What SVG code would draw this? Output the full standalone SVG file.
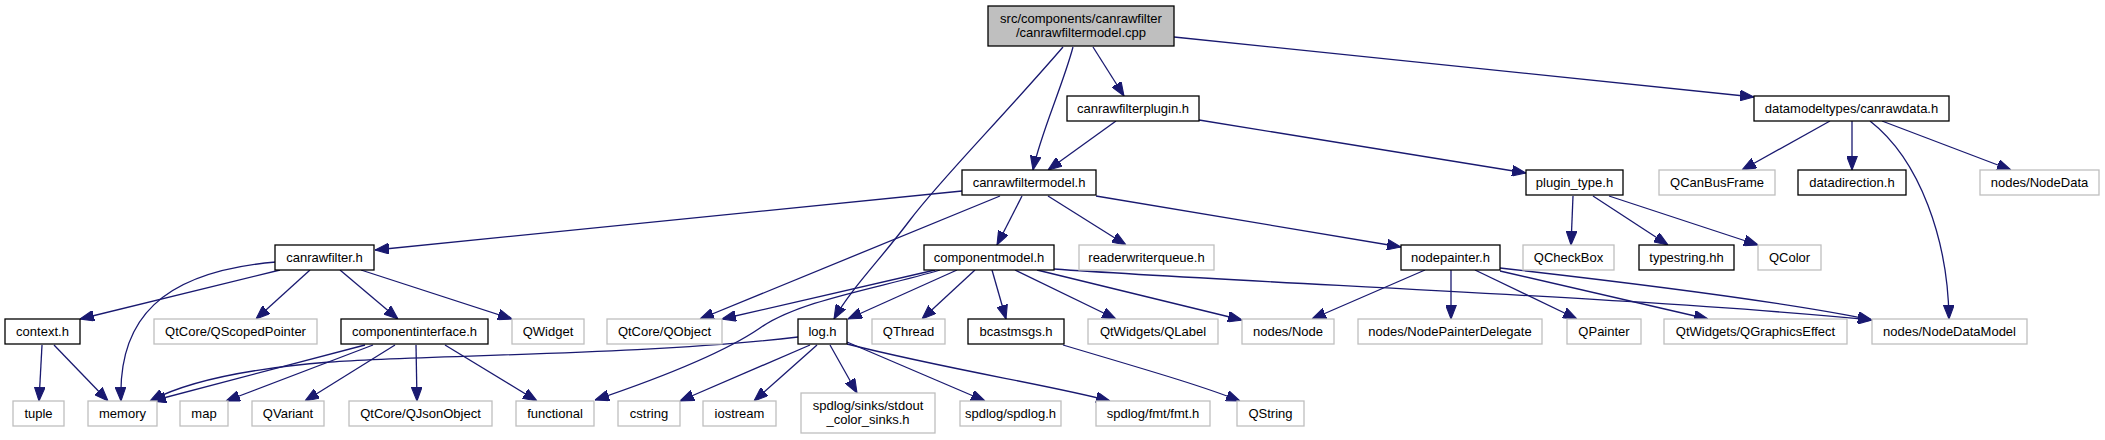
<svg xmlns="http://www.w3.org/2000/svg" width="2105" height="440" viewBox="0 0 2105 440">
<style>
text{font-family:"Liberation Sans",Arial,Helvetica,sans-serif;font-size:13px;fill:#000;text-anchor:middle}
.n rect{fill:#fff;stroke:#000;stroke-width:1.3}
.g rect{fill:#fff;stroke:#bfbfbf;stroke-width:1.3}
.r rect{fill:#bfbfbf;stroke:#000;stroke-width:1.3}
#edges path{fill:none;stroke:#191970;stroke-width:1.3;marker-end:url(#ah)}
</style>
<defs>
<marker id="ah" markerUnits="userSpaceOnUse" markerWidth="14" markerHeight="11" viewBox="0 0 13 10" refX="13" refY="5" orient="auto">
<path d="M0,0 L13,5 L0,10 z" fill="#191970" stroke="#191970" stroke-width="1"/>
</marker>
</defs>
<rect width="2105" height="440" fill="#fff"/>
<g id="edges">
<path d="M1093,47 L1124,96"/>
<path d="M1073,47 C1063,85 1040,135 1033,170"/>
<path d="M1063,47 C1000,120 940,180 910,220 S850,290 834,319"/>
<path d="M1174,37 L1754,97"/>
<path d="M1116,121 L1048,170"/>
<path d="M1199,120 L1526,173"/>
<path d="M962,191 L375,250"/>
<path d="M1000,196 L700,319"/>
<path d="M1022,196 L997,245"/>
<path d="M1048,196 L1126,245"/>
<path d="M1096,196 L1401,247"/>
<path d="M1830,121 L1742,170"/>
<path d="M1852,121 L1852,170"/>
<path d="M1870,121 C1920,160 1948,240 1949,319"/>
<path d="M1882,121 L2011,170"/>
<path d="M1573,196 L1571,245"/>
<path d="M1593,196 L1668,245"/>
<path d="M1609,196 L1758,245"/>
<path d="M280,270 L80,319"/>
<path d="M276,262 C160,272 118,320 121,401"/>
<path d="M310,270 L256,319"/>
<path d="M340,270 L398,319"/>
<path d="M361,270 L512,319"/>
<path d="M935,270 L722,319"/>
<path d="M957,270 L848,319"/>
<path d="M975,270 L922,319"/>
<path d="M992,270 L1006,319"/>
<path d="M1015,270 L1116,319"/>
<path d="M1037,270 L1242,320"/>
<path d="M1054,269 C1250,283 1650,298 1872,320"/>
<path d="M940,270 C880,288 800,300 760,328 C725,352 660,378 595,400"/>
<path d="M798,337 C650,355 420,355 330,362 C230,370 180,385 150,401"/>
<path d="M810,345 L680,401"/>
<path d="M817,345 L754,401"/>
<path d="M830,345 L857,393"/>
<path d="M847,342 L985,401"/>
<path d="M847,344 C950,370 1050,385 1110,401"/>
<path d="M1063,345 C1140,368 1200,385 1240,401"/>
<path d="M365,345 L152,401"/>
<path d="M373,345 L226,401"/>
<path d="M395,345 L305,401"/>
<path d="M416,345 L417,401"/>
<path d="M445,345 L537,401"/>
<path d="M42,345 L39,401"/>
<path d="M54,345 L108,401"/>
<path d="M1425,270 L1312,319"/>
<path d="M1451,270 L1451,319"/>
<path d="M1475,270 L1577,319"/>
<path d="M1500,271 L1708,319"/>
<path d="M1500,268 C1650,285 1800,305 1872,320"/>
</g>
<g id="root" class="r"><rect x="988" y="6" width="186" height="40"/><text x="1081" y="23">src/components/canrawfilter</text><text x="1081" y="37">/canrawfiltermodel.cpp</text></g>
<g id="canrawfilterplugin" class="n"><rect x="1067" y="96" width="132" height="25"/><text x="1133" y="113">canrawfilterplugin.h</text></g>
<g id="canrawdata" class="n"><rect x="1754" y="96" width="195" height="25"/><text x="1851.5" y="113">datamodeltypes/canrawdata.h</text></g>
<g id="canrawfiltermodel" class="n"><rect x="962" y="170" width="134" height="25"/><text x="1029" y="187">canrawfiltermodel.h</text></g>
<g id="plugin_type" class="n"><rect x="1526" y="170" width="97" height="25"/><text x="1574.5" y="187">plugin_type.h</text></g>
<g id="QCanBusFrame" class="g"><rect x="1659" y="170" width="116" height="25"/><text x="1717" y="187">QCanBusFrame</text></g>
<g id="datadirection" class="n"><rect x="1798" y="170" width="108" height="25"/><text x="1852" y="187">datadirection.h</text></g>
<g id="NodeData" class="g"><rect x="1980" y="170" width="119" height="25"/><text x="2039.5" y="187">nodes/NodeData</text></g>
<g id="canrawfilter" class="n"><rect x="275" y="245" width="99" height="25"/><text x="324.5" y="262">canrawfilter.h</text></g>
<g id="componentmodel" class="n"><rect x="924" y="245" width="130" height="25"/><text x="989" y="262">componentmodel.h</text></g>
<g id="readerwriterqueue" class="g"><rect x="1079" y="245" width="135" height="25"/><text x="1146.5" y="262">readerwriterqueue.h</text></g>
<g id="nodepainter" class="n"><rect x="1401" y="245" width="99" height="25"/><text x="1450.5" y="262">nodepainter.h</text></g>
<g id="QCheckBox" class="g"><rect x="1523" y="245" width="91" height="25"/><text x="1568.5" y="262">QCheckBox</text></g>
<g id="typestring" class="n"><rect x="1639" y="245" width="95" height="25"/><text x="1686.5" y="262">typestring.hh</text></g>
<g id="QColor" class="g"><rect x="1758" y="245" width="63" height="25"/><text x="1789.5" y="262">QColor</text></g>
<g id="context" class="n"><rect x="5" y="319" width="75" height="25"/><text x="42.5" y="336">context.h</text></g>
<g id="QScopedPointer" class="g"><rect x="154" y="319" width="163" height="25"/><text x="235.5" y="336">QtCore/QScopedPointer</text></g>
<g id="componentinterface" class="n"><rect x="341" y="319" width="147" height="25"/><text x="414.5" y="336">componentinterface.h</text></g>
<g id="QWidget" class="g"><rect x="512" y="319" width="72" height="25"/><text x="548" y="336">QWidget</text></g>
<g id="QObject" class="g"><rect x="607" y="319" width="115" height="25"/><text x="664.5" y="336">QtCore/QObject</text></g>
<g id="log" class="n"><rect x="798" y="319" width="49" height="25"/><text x="822.5" y="336">log.h</text></g>
<g id="QThread" class="g"><rect x="872" y="319" width="73" height="25"/><text x="908.5" y="336">QThread</text></g>
<g id="bcastmsgs" class="n"><rect x="968" y="319" width="96" height="25"/><text x="1016" y="336">bcastmsgs.h</text></g>
<g id="QLabel" class="g"><rect x="1088" y="319" width="130" height="25"/><text x="1153" y="336">QtWidgets/QLabel</text></g>
<g id="Node" class="g"><rect x="1242" y="319" width="92" height="25"/><text x="1288" y="336">nodes/Node</text></g>
<g id="NodePainterDelegate" class="g"><rect x="1358" y="319" width="184" height="25"/><text x="1450" y="336">nodes/NodePainterDelegate</text></g>
<g id="QPainter" class="g"><rect x="1567" y="319" width="74" height="25"/><text x="1604" y="336">QPainter</text></g>
<g id="QGraphicsEffect" class="g"><rect x="1664" y="319" width="183" height="25"/><text x="1755.5" y="336">QtWidgets/QGraphicsEffect</text></g>
<g id="NodeDataModel" class="g"><rect x="1872" y="319" width="155" height="25"/><text x="1949.5" y="336">nodes/NodeDataModel</text></g>
<g id="tuple" class="g"><rect x="13" y="401" width="51" height="25"/><text x="38.5" y="418">tuple</text></g>
<g id="memory" class="g"><rect x="88" y="401" width="69" height="25"/><text x="122.5" y="418">memory</text></g>
<g id="map" class="g"><rect x="180" y="401" width="48" height="25"/><text x="204" y="418">map</text></g>
<g id="QVariant" class="g"><rect x="252" y="401" width="72" height="25"/><text x="288" y="418">QVariant</text></g>
<g id="QJsonObject" class="g"><rect x="349" y="401" width="143" height="25"/><text x="420.5" y="418">QtCore/QJsonObject</text></g>
<g id="functional" class="g"><rect x="516" y="401" width="78" height="25"/><text x="555" y="418">functional</text></g>
<g id="cstring" class="g"><rect x="618" y="401" width="62" height="25"/><text x="649" y="418">cstring</text></g>
<g id="iostream" class="g"><rect x="703" y="401" width="73" height="25"/><text x="739.5" y="418">iostream</text></g>
<g id="stdout_color_sinks" class="g"><rect x="801" y="393" width="134" height="40"/><text x="868" y="410">spdlog/sinks/stdout</text><text x="868" y="424">_color_sinks.h</text></g>
<g id="spdlog" class="g"><rect x="960" y="401" width="101" height="25"/><text x="1010.5" y="418">spdlog/spdlog.h</text></g>
<g id="fmt" class="g"><rect x="1096" y="401" width="114" height="25"/><text x="1153" y="418">spdlog/fmt/fmt.h</text></g>
<g id="QString" class="g"><rect x="1237" y="401" width="67" height="25"/><text x="1270.5" y="418">QString</text></g>
</svg>
